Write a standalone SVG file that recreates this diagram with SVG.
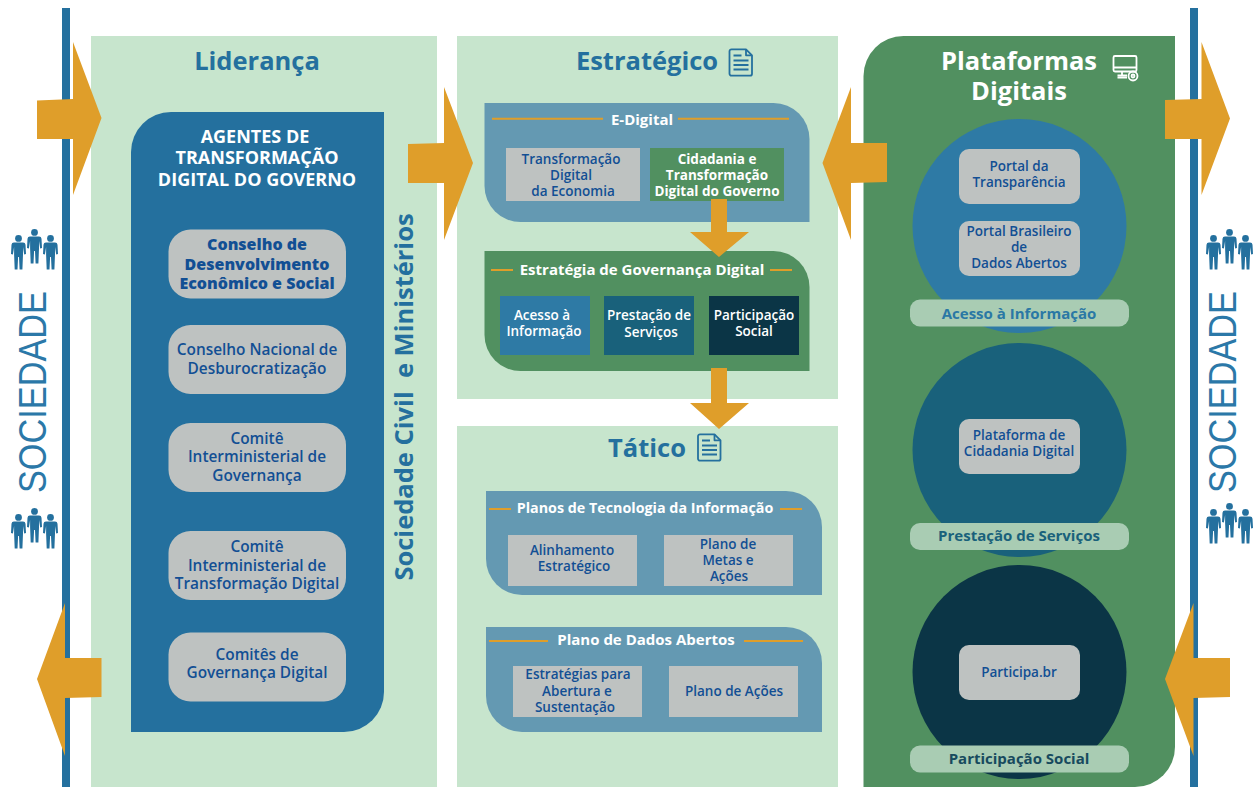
<svg xmlns="http://www.w3.org/2000/svg" xmlns:xlink="http://www.w3.org/1999/xlink" width="1258" height="787" viewBox="0 0 1258 787">
<style>
text{font-family:"Open Sans","Noto Sans","DejaVu Sans",sans-serif;text-anchor:middle}
.title{font-size:25.5px;font-weight:700;fill:#24709e}
.w{fill:#fff}
.b{fill:#124f94;font-weight:600}
.pill{font-size:15.4px}
.s13{font-size:13.5px}
.sw{fill:#fff;font-size:13.5px;font-weight:600}
.hd{fill:#fff;font-size:15px;font-weight:700}
.lab{font-size:15px;font-weight:700}
.ag{fill:#fff;font-size:18px;font-weight:700}
.soc{font-family:"Liberation Sans",Arial,sans-serif;font-size:38px;fill:#2b78a8}
.line{stroke:#df9e2a;stroke-width:2;fill:none}
.grey{fill:#bec2c1}
.lbl{fill:#a9ccb3}
.panel{fill:#c7e5cd}
.arrow{fill:#df9e2a}
.bar{fill:#24709e}
.doc{fill:none;stroke:#24709e;stroke-width:1.8;stroke-linejoin:round}
.mon{fill:none;stroke:#fff;stroke-width:1.8}
</style>
<defs>
<g id="person" fill="#24709e">
<circle cx="7.500" cy="3.400" r="3.400"/>
<path d="M3 7.500h9a2.500 2.500 0 0 1 2.500 2.300l.5 9.200-1.800.4-1.200-7.400v7.400l-.6 15.100h-2.800l-.6-12.500h-.9l-.6 12.500h-2.800l-.6-15.100v-7.400l-1.200 7.400-1.900-.4.5-9.200a2.500 2.500 0 0 1 2.500-2.300z"/>
</g>
<g id="people">
<use xlink:href="#person" href="#person" x="0" y="6"/>
<use xlink:href="#person" href="#person" x="16" y="0"/>
<use xlink:href="#person" href="#person" x="32" y="6"/>
</g>
<g id="docicon" class="doc">
<path d="M3 .8h14.500l6 6v18.400a2 2 0 0 1-2 2H3a2 2 0 0 1-2-2V2.800a2 2 0 0 1 2-2z"/>
<path d="M17.500 .8v6h6M5 7h8M5 12h15M5 16.500h15M5 21h15"/>
</g>
</defs>
<g id="barra-esquerda"><rect class="bar" x="62" y="8" width="8" height="779"/></g>
<g id="barra-direita"><rect class="bar" x="1190" y="8" width="8" height="779"/></g>
<g id="sociedade-esquerda">
<text class="soc" textLength="202" lengthAdjust="spacingAndGlyphs" transform="translate(46 392) rotate(-90)">SOCIEDADE</text>
<use xlink:href="#people" href="#people" x="11" y="229"/>
<use xlink:href="#people" href="#people" x="11" y="508"/>
</g>
<g id="sociedade-direita">
<text class="soc" textLength="202" lengthAdjust="spacingAndGlyphs" transform="translate(1236 392) rotate(-90)">SOCIEDADE</text>
<use xlink:href="#people" href="#people" x="1206" y="229"/>
<use xlink:href="#people" href="#people" x="1206" y="503"/>
</g>
<g id="lideranca">
<rect class="panel" x="91" y="36" width="346" height="751"/>
<text class="title" x="257" y="70">Liderança</text>
<text transform="translate(413 397) rotate(-90)" style="font-size:25.500px;font-weight:700;fill:#24709e;white-space:pre">Sociedade Civil  e Ministérios</text>
</g>
<g id="agentes">
<path fill="#24709e" d="M171 112H384V692a40 40 0 0 1-40 40H131V152a40 40 0 0 1 40-40z"/>
<text class="ag" x="255" y="143">AGENTES DE</text>
<text class="ag" x="257" y="164">TRANSFORMAÇÃO</text>
<text class="ag" x="257" y="186">DIGITAL DO GOVERNO</text>
</g>
<g id="conselho-desenvolvimento">
<rect class="grey" x="168.500" y="229.500" width="177.500" height="69" rx="22"/>
<text class="b" style="font-size:16px;font-weight:800" x="257" y="250">Conselho de</text>
<text class="b" style="font-size:16px;font-weight:800" x="257" y="270">Desenvolvimento</text>
<text class="b" style="font-size:16px;font-weight:800" x="257" y="289">Econômico e Social</text>
</g>
<g id="conselho-desburocratizacao">
<rect class="grey" x="168.500" y="325" width="177.500" height="69" rx="22"/>
<text class="b pill" x="257" y="355">Conselho Nacional de</text>
<text class="b pill" x="257" y="374">Desburocratização</text>
</g>
<g id="comite-governanca">
<rect class="grey" x="168.500" y="423" width="177.500" height="69" rx="22"/>
<text class="b pill" x="257" y="444">Comitê</text>
<text class="b pill" x="257" y="462">Interministerial de</text>
<text class="b pill" x="257" y="481">Governança</text>
</g>
<g id="comite-transformacao">
<rect class="grey" x="168.500" y="531" width="177.500" height="69" rx="22"/>
<text class="b pill" x="257" y="552">Comitê</text>
<text class="b pill" x="257" y="571">Interministerial de</text>
<text class="b pill" x="257" y="589">Transformação Digital</text>
</g>
<g id="comites-governanca">
<rect class="grey" x="168.500" y="632.500" width="177.500" height="69" rx="22"/>
<text class="b pill" x="257" y="660">Comitês de</text>
<text class="b pill" x="257" y="678">Governança Digital</text>
</g>
<g id="estrategico">
<rect class="panel" x="457" y="36" width="381" height="363"/>
<text class="title" x="647" y="70">Estratégico</text>
<use xlink:href="#docicon" href="#docicon" x="728.500" y="48.500"/>
</g>
<g id="e-digital">
<path fill="#6499b2" d="M484.500 103H773.500a36 36 0 0 1 36 36V222H520.500a36 36 0 0 1-36-36z"/>
<path class="line" d="M492 118.700H603M678 118.700H789"/>
<text class="hd" x="642" y="125">E-Digital</text>
</g>
<g id="transformacao-economia">
<rect class="grey" x="506" y="148" width="134" height="53"/>
<text class="b s13" x="571" y="164">Transformação</text>
<text class="b s13" x="571" y="180">Digital</text>
<text class="b s13" x="573" y="196">da Economia</text>
</g>
<g id="cidadania">
<rect fill="#519060" x="650" y="148" width="134" height="53"/>
<text class="sw" style="font-weight:700" x="717" y="164">Cidadania e</text>
<text class="sw" style="font-weight:700" x="717" y="180">Transformação</text>
<text class="sw" style="font-weight:700" x="717" y="196">Digital do Governo</text>
</g>
<g id="governanca-digital">
<path fill="#519060" d="M484.500 251H773.500a36 36 0 0 1 36 36V371H520.500a36 36 0 0 1-36-36z"/>
<path class="line" d="M491 270H513M770 270H792"/>
<text class="hd" x="642" y="275">Estratégia de Governança Digital</text>
</g>
<g id="acesso-box">
<rect fill="#2e7aa5" x="500" y="296" width="90" height="59"/>
<text class="sw" x="542" y="320">Acesso à</text>
<text class="sw" x="544" y="336">Informação</text>
</g>
<g id="prestacao-box">
<rect fill="#19617b" x="604" y="296" width="90" height="59"/>
<text class="sw" x="649" y="320">Prestação de</text>
<text class="sw" x="651" y="337">Serviços</text>
</g>
<g id="participacao-box">
<rect fill="#0b3546" x="709" y="296" width="90" height="59"/>
<text class="sw" x="754" y="320">Participação</text>
<text class="sw" x="754" y="336">Social</text>
</g>
<g id="tatico">
<rect class="panel" x="457" y="426" width="381" height="361"/>
<text class="title" x="647" y="456.500">Tático</text>
<use xlink:href="#docicon" href="#docicon" x="697" y="433.500"/>
</g>
<g id="planos-ti">
<path fill="#6499b2" d="M486 491H786a36 36 0 0 1 36 36V595H522a36 36 0 0 1-36-36z"/>
<path class="line" d="M489 509H511M780 509H802"/>
<text class="hd" style="font-size:14.300px" x="645" y="513">Planos de Tecnologia da Informação</text>
</g>
<g id="alinhamento">
<rect class="grey" x="508" y="535" width="129" height="51"/>
<text class="b s13" x="572" y="555">Alinhamento</text>
<text class="b s13" x="574" y="571">Estratégico</text>
</g>
<g id="plano-metas">
<rect class="grey" x="664" y="535" width="129" height="51"/>
<text class="b s13" x="728" y="549">Plano de</text>
<text class="b s13" x="728" y="565">Metas e</text>
<text class="b s13" x="729" y="581">Ações</text>
</g>
<g id="dados-abertos">
<path fill="#6499b2" d="M486 627H786a36 36 0 0 1 36 36V732H522a36 36 0 0 1-36-36z"/>
<path class="line" d="M489 641H548M744 641H803"/>
<text class="hd" x="646" y="645">Plano de Dados Abertos</text>
</g>
<g id="estrategias-abertura">
<rect class="grey" x="513" y="666" width="129" height="51"/>
<text class="b s13" x="578" y="679">Estratégias para</text>
<text class="b s13" x="577" y="696">Abertura e</text>
<text class="b s13" x="575" y="712">Sustentação</text>
</g>
<g id="plano-acoes">
<rect class="grey" x="669" y="666" width="129" height="51"/>
<text class="b s13" x="734" y="696">Plano de Ações</text>
</g>
<g id="plataformas">
<path fill="#519060" d="M903.500 36H1175V747a40 40 0 0 1-40 40H863.500V76a40 40 0 0 1 40-40z"/>
<text class="title" style="fill:#fff" x="1019" y="70">Plataformas</text>
<text class="title" style="fill:#fff" x="1019" y="100">Digitais</text>
<g class="mon">
<rect x="1113.500" y="56" width="23" height="15.500" rx="1.500"/>
<path d="M1113.500 67.500H1136.500M1122 71.500V75M1117.500 75.500H1127M1117.500 77.700H1127"/>
<circle cx="1133" cy="76" r="4.500"/>
<circle cx="1133" cy="76" r="1.500"/>
</g>
</g>
<g id="acesso-informacao">
<circle fill="#2e7aa5" cx="1019.500" cy="226" r="107"/>
<rect class="lbl" x="910" y="299.500" width="219" height="27" rx="10"/>
<text class="lab" fill="#2a78a5" x="1019" y="319">Acesso à Informação</text>
</g>
<g id="portal-transparencia">
<rect class="grey" x="959" y="149" width="121" height="55" rx="10"/>
<text class="b s13" x="1019" y="171">Portal da</text>
<text class="b s13" x="1019" y="187">Transparência</text>
</g>
<g id="portal-dados">
<rect class="grey" x="959" y="221" width="121" height="55" rx="10"/>
<text class="b s13" x="1019" y="236">Portal Brasileiro</text>
<text class="b s13" x="1019" y="252">de</text>
<text class="b s13" x="1019" y="268">Dados Abertos</text>
</g>
<g id="prestacao-servicos">
<circle fill="#19617b" cx="1019.500" cy="450" r="107"/>
<rect class="lbl" x="910" y="523" width="219" height="27" rx="10"/>
<text class="lab" fill="#19617b" x="1019" y="541">Prestação de Serviços</text>
</g>
<g id="plataforma-cidadania">
<rect class="grey" x="959" y="419" width="121" height="55" rx="10"/>
<text class="b s13" x="1019" y="440">Plataforma de</text>
<text class="b s13" x="1019" y="456">Cidadania Digital</text>
</g>
<g id="participacao-social">
<circle fill="#0b3546" cx="1019.500" cy="672" r="107"/>
<rect class="lbl" x="910" y="745.500" width="219" height="27" rx="10"/>
<text class="lab" fill="#174a5e" x="1019" y="764">Participação Social</text>
</g>
<g id="participa-br">
<rect class="grey" x="959" y="645" width="121" height="55" rx="10"/>
<text class="b s13" x="1019" y="677">Participa.br</text>
</g>
<g id="connectors" class="arrow">
<path d="M37 100.500L73 99V42L101.500 118L73 195V139H37z"/>
<path d="M408 144L444 143V87L473 163L444 240V183H408z"/>
<path d="M887 182L851 183V240L822.500 163L851 87V143H887z"/>
<path d="M1165 100L1201.500 99V42L1230 118.500L1201.500 195V139H1165z"/>
<path d="M1230 697L1193.500 698V756L1165 679L1193.500 603V658H1230z"/>
<path d="M101.500 697L65 698V756L37 679L65 603V658H101.500z"/>
<path d="M711 199H727V232H749L719 257L690 232H711z"/>
<path d="M711 368H727V403H749L719 429L690 403H711z"/>
</g>
</svg>
